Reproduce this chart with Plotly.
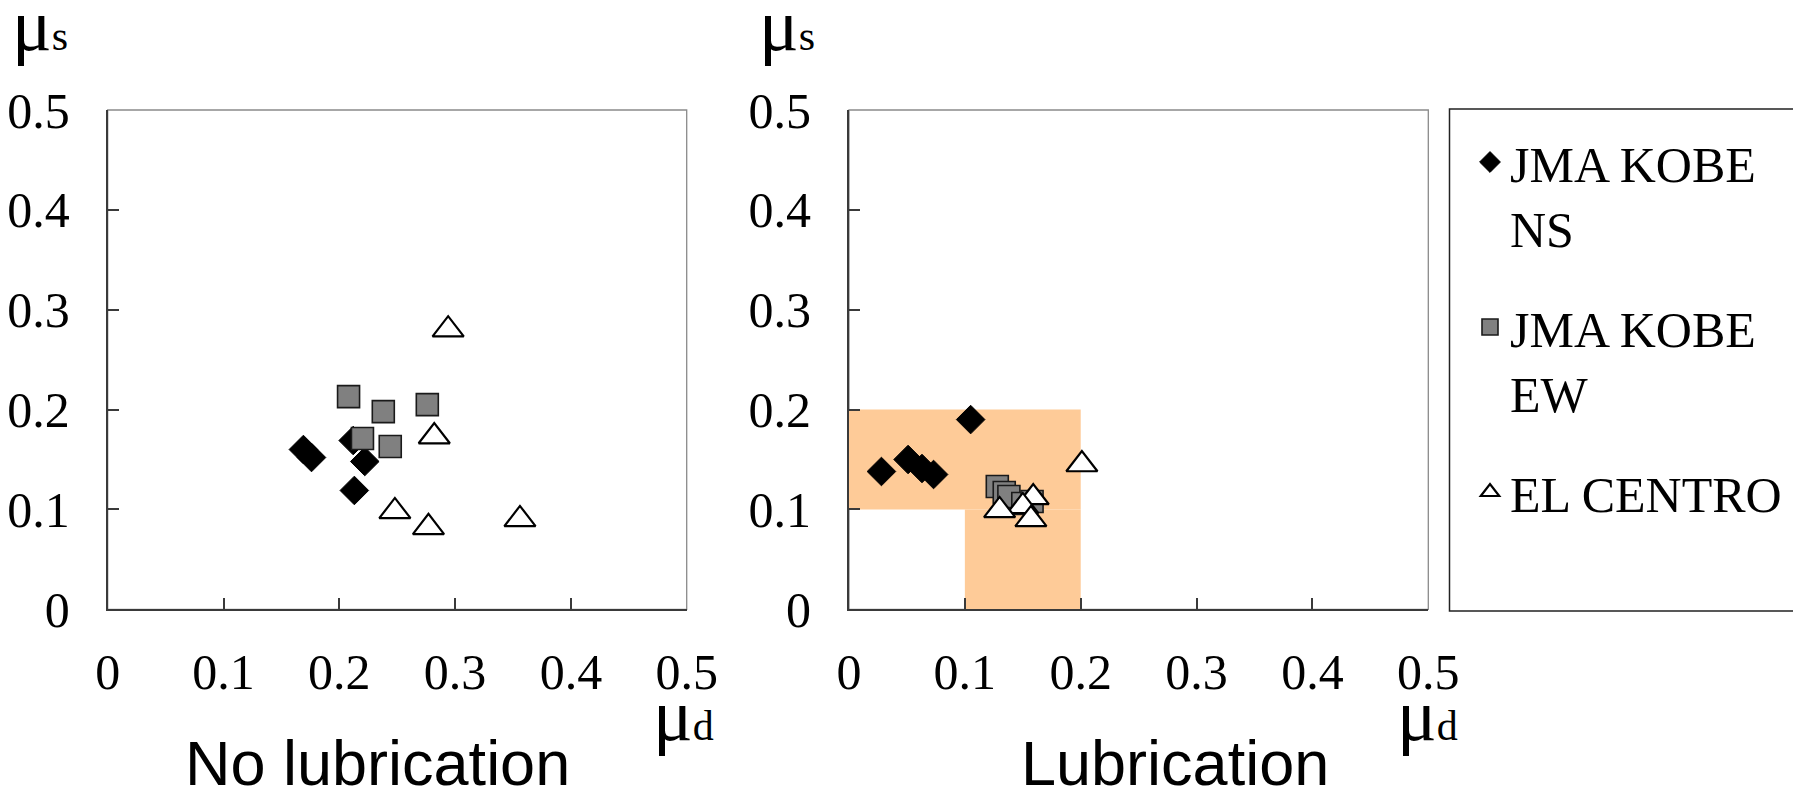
import plotly.graph_objects as go

# ---------------- data ----------------
series_names = ["JMA KOBE<br>NS", "JMA KOBE<br>EW", "EL CENTRO"]

# No lubrication panel
nolub_ns_x = [0.169, 0.176, 0.212, 0.222, 0.213]
nolub_ns_y = [0.160, 0.152, 0.169, 0.148, 0.119]
nolub_ew_x = [0.208, 0.238, 0.276, 0.220, 0.244]
nolub_ew_y = [0.213, 0.198, 0.205, 0.171, 0.163]
nolub_ec_x = [0.294, 0.282, 0.248, 0.277, 0.356]
nolub_ec_y = [0.280, 0.173, 0.098, 0.082, 0.090]

# Lubrication panel
lub_ns_x = [0.028, 0.051, 0.063, 0.073, 0.105]
lub_ns_y = [0.138, 0.150, 0.141, 0.135, 0.190]
lub_ew_x = [0.128, 0.134, 0.138, 0.150, 0.158]
lub_ew_y = [0.123, 0.117, 0.113, 0.106, 0.108]
lub_ec_x = [0.201, 0.159, 0.150, 0.130, 0.157]
lub_ec_y = [0.145, 0.112, 0.103, 0.099, 0.090]

# highlighted target region (Lubrication panel), as two rectangles [x0, x1, y0, y1]
region_upper = [0.0, 0.2, 0.1, 0.2]
region_lower = [0.1, 0.2, 0.0, 0.1]

tick_vals = [0, 0.1, 0.2, 0.3, 0.4, 0.5]
tick_text = ["0", "0.1", "0.2", "0.3", "0.4", "0.5"]
axis_range = [0, 0.5]

panel_titles = ["No lubrication", "Lubrication"]

# ---------------- styles ----------------
W, H = 1793, 794
SERIF = "Liberation Serif"
SANS = "Liberation Sans"
AX_DARK = "#3a3a3a"
ORANGE = "#FECB98"

styles = [
    dict(symbol="diamond", size=22, color="black", line=dict(color="black", width=1)),
    dict(symbol="square", size=22, color="#808080", line=dict(color="#1a1a1a", width=1.6)),
    dict(symbol="triangle-up", size=27, color="white", line=dict(color="black", width=2.2)),
]

def px_x(p):
    return p / W

def px_y(p):
    return 1 - p / H

fig = go.Figure()

panels = [
    ("x", "y", [(nolub_ns_x, nolub_ns_y), (nolub_ew_x, nolub_ew_y), (nolub_ec_x, nolub_ec_y)]),
    ("x2", "y2", [(lub_ns_x, lub_ns_y), (lub_ew_x, lub_ew_y), (lub_ec_x, lub_ec_y)]),
]

for pi, (xa, ya, sets) in enumerate(panels):
    for si, (xs, ys) in enumerate(sets):
        fig.add_trace(go.Scatter(
            x=xs, y=ys, mode="markers", xaxis=xa, yaxis=ya,
            name=series_names[si], legendgroup=f"g{si}",
            showlegend=(pi == 0),
            marker=styles[si],
            cliponaxis=False,
        ))

# orange region
for r in (region_upper, region_lower):
    fig.add_shape(type="rect", xref="x2", yref="y2", x0=r[0], x1=r[1], y0=r[2], y1=r[3],
                  fillcolor=ORANGE, line=dict(width=0), layer="below")

# grey plot-area frames
for xa, ya in (("x", "y"), ("x2", "y2")):
    fig.add_shape(type="rect", xref=f"{xa} domain", yref=f"{ya} domain", x0=0, x1=1, y0=0, y1=1,
                  line=dict(color="#8a8a8a", width=1.3), fillcolor="rgba(0,0,0,0)", layer="below")

# legend frame
fig.add_shape(type="rect", xref="paper", yref="paper",
              x0=px_x(1449.5), x1=px_x(1800), y0=px_y(611), y1=px_y(109),
              line=dict(color="#222222", width=1.5), fillcolor="rgba(0,0,0,0)")

axis_common = dict(
    range=axis_range, tickvals=tick_vals, ticktext=tick_text, automargin=False,
    showgrid=False, zeroline=False, showline=True, linecolor=AX_DARK, linewidth=2,
    ticks="inside", ticklen=11, tickwidth=1.5, tickcolor=AX_DARK,
    tickfont=dict(family=SERIF, size=50, color="black"),
    fixedrange=True,
)

y_dom = [px_y(609.3), px_y(110)]
fig.update_layout(
    template="none",
    width=W, height=H,
    margin=dict(l=0, r=0, t=0, b=0, pad=0),
    paper_bgcolor="white", plot_bgcolor="rgba(0,0,0,0)",
    xaxis=dict(domain=[px_x(107.7), px_x(686.7)], anchor="y", ticklabelstandoff=18, **axis_common),
    yaxis=dict(domain=y_dom, anchor="x", ticklabelstandoff=26, **axis_common),
    xaxis2=dict(domain=[px_x(849), px_x(1428.3)], anchor="y2", ticklabelstandoff=18, **axis_common),
    yaxis2=dict(domain=y_dom, anchor="x2", ticklabelstandoff=26, **axis_common),
    showlegend=True,
    legend=dict(
        x=px_x(1470), y=px_y(123), xanchor="left", yanchor="top",
        font=dict(family=SERIF, size=50, color="black"),
        bgcolor="rgba(0,0,0,0)", borderwidth=0,
        traceorder="grouped", tracegroupgap=32, valign="top",
        itemsizing="trace", itemwidth=30,
    ),
)

# axis symbol annotations
mu_s = "μ<span style='font-size:42px'>s</span>"
mu_d = "μ<span style='font-size:42px'>d</span>"
for xpix in (10, 757):
    fig.add_annotation(xref="paper", yref="paper", x=px_x(xpix), y=px_y(-18),
                       xanchor="left", yanchor="top", text=mu_s, showarrow=False,
                       font=dict(family=SERIF, size=74, color="black"))
for xpix in (651, 1395):
    fig.add_annotation(xref="paper", yref="paper", x=px_x(xpix), y=px_y(672),
                       xanchor="left", yanchor="top", text=mu_d, showarrow=False,
                       font=dict(family=SERIF, size=74, color="black"))

# panel captions
for cx, t in ((377, panel_titles[0]), (1175, panel_titles[1])):
    fig.add_annotation(xref="paper", yref="paper", x=px_x(cx), y=px_y(763),
                       xanchor="center", yanchor="middle", text=t, showarrow=False,
                       font=dict(family=SANS, size=63, color="black"))

fig.write_html("out.html")
